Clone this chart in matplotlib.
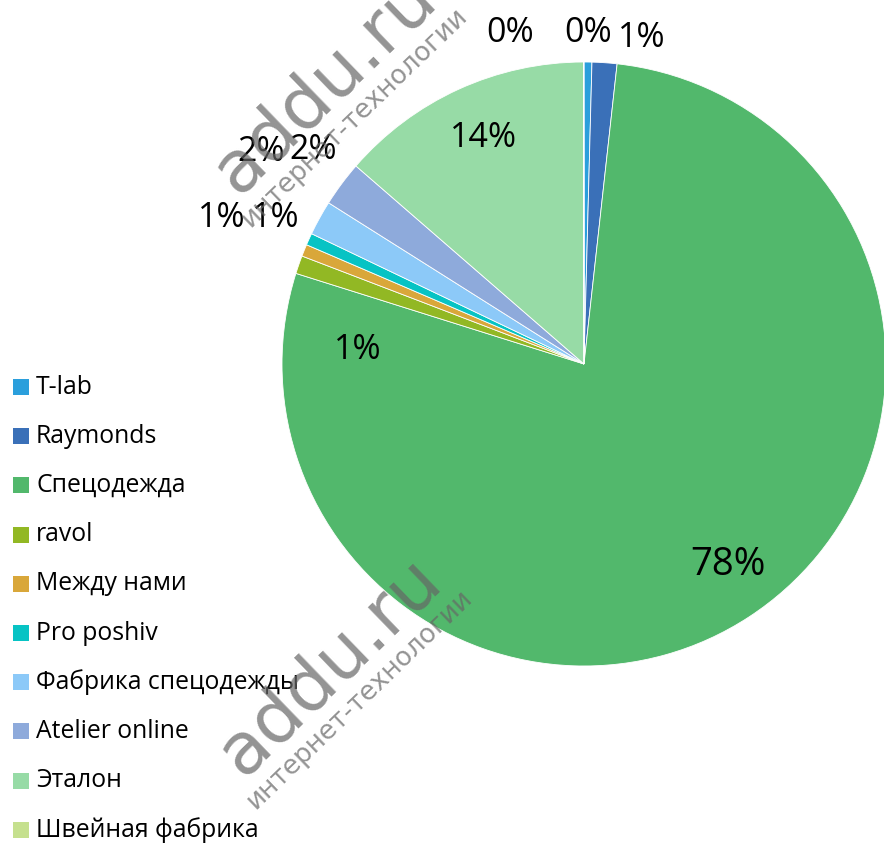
import matplotlib
matplotlib.use("Agg")
import matplotlib.pyplot as plt
from matplotlib.patches import Rectangle

# data
names = ["T-lab", "Raymonds", "Спецодежда", "ravol", "Между нами", "Pro poshiv",
         "Фабрика спецодежды", "Atelier online", "Эталон", "Швейная фабрика"]
shares = [0.42, 1.33, 78.1, 0.97, 0.64, 0.64, 1.86, 2.42, 13.6, 0.02]
pct_labels = ["0%", "1%", "78%", "1%", "1%", "1%", "2%", "2%", "14%", "0%"]
colors = ["#2b9fdc", "#3a70b8", "#52b86c", "#92b824", "#d9a73a", "#07c3c4",
          "#8cc9f8", "#8eaadb", "#97dba6", "#c5e08e"]

# label offsets from the pie centre, in radius units
label_pos = [(0.013, 1.096), (0.192, 1.079), (0.477, -0.666), (-0.748, 0.046),
             (-1.199, 0.483), (-1.02, 0.483), (-1.07, 0.702), (-0.897, 0.709),
             (-0.334, 0.748), (-0.245, 1.096)]

W, H = 884, 843
fig = plt.figure(figsize=(W / 100, H / 100), dpi=100, facecolor="white")
ax = fig.add_axes([0, 0, 1, 1])

cx, cy, r = 584, H - 364, 302
wedges, _ = ax.pie(shares, colors=colors, startangle=90, counterclock=False,
                   center=(cx, cy), radius=r,
                   wedgeprops=dict(edgecolor="white", linewidth=0.6))
ax.set_xlim(0, W)
ax.set_ylim(0, H)
ax.set_aspect("auto")
ax.axis("off")

for lab, (dx, dy) in zip(pct_labels, label_pos):
    size = 27.5 if lab == "78%" else 24.5
    ax.text(cx + dx * r, cy + dy * r, lab, ha="center", va="center",
            fontsize=size, family="Open Sans", color="black")

# legend
for i, (name, col) in enumerate(zip(names, colors)):
    y = H - (387 + i * 49.2)
    ax.add_patch(Rectangle((13, y - 8), 16, 16, color=col, lw=0))
    ax.text(36, y, name, ha="left", va="center", fontsize=17.8,
            family="Open Sans", color="black")

# watermarks
for (x, y) in [(325, H - 85), (330, H - 667)]:
    ax.text(x, y, "addu.ru", rotation=44, fontsize=52, color="#666666",
            alpha=0.7, ha="center", va="center", family="DejaVu Sans", zorder=10)
    ax.text(x + 30, y - 32, "интернет-технологии", rotation=44, fontsize=19,
            color="#666666", alpha=0.7, ha="center", va="center",
            family="DejaVu Sans", zorder=10)

fig.savefig("out.png", dpi=100, facecolor="white")
